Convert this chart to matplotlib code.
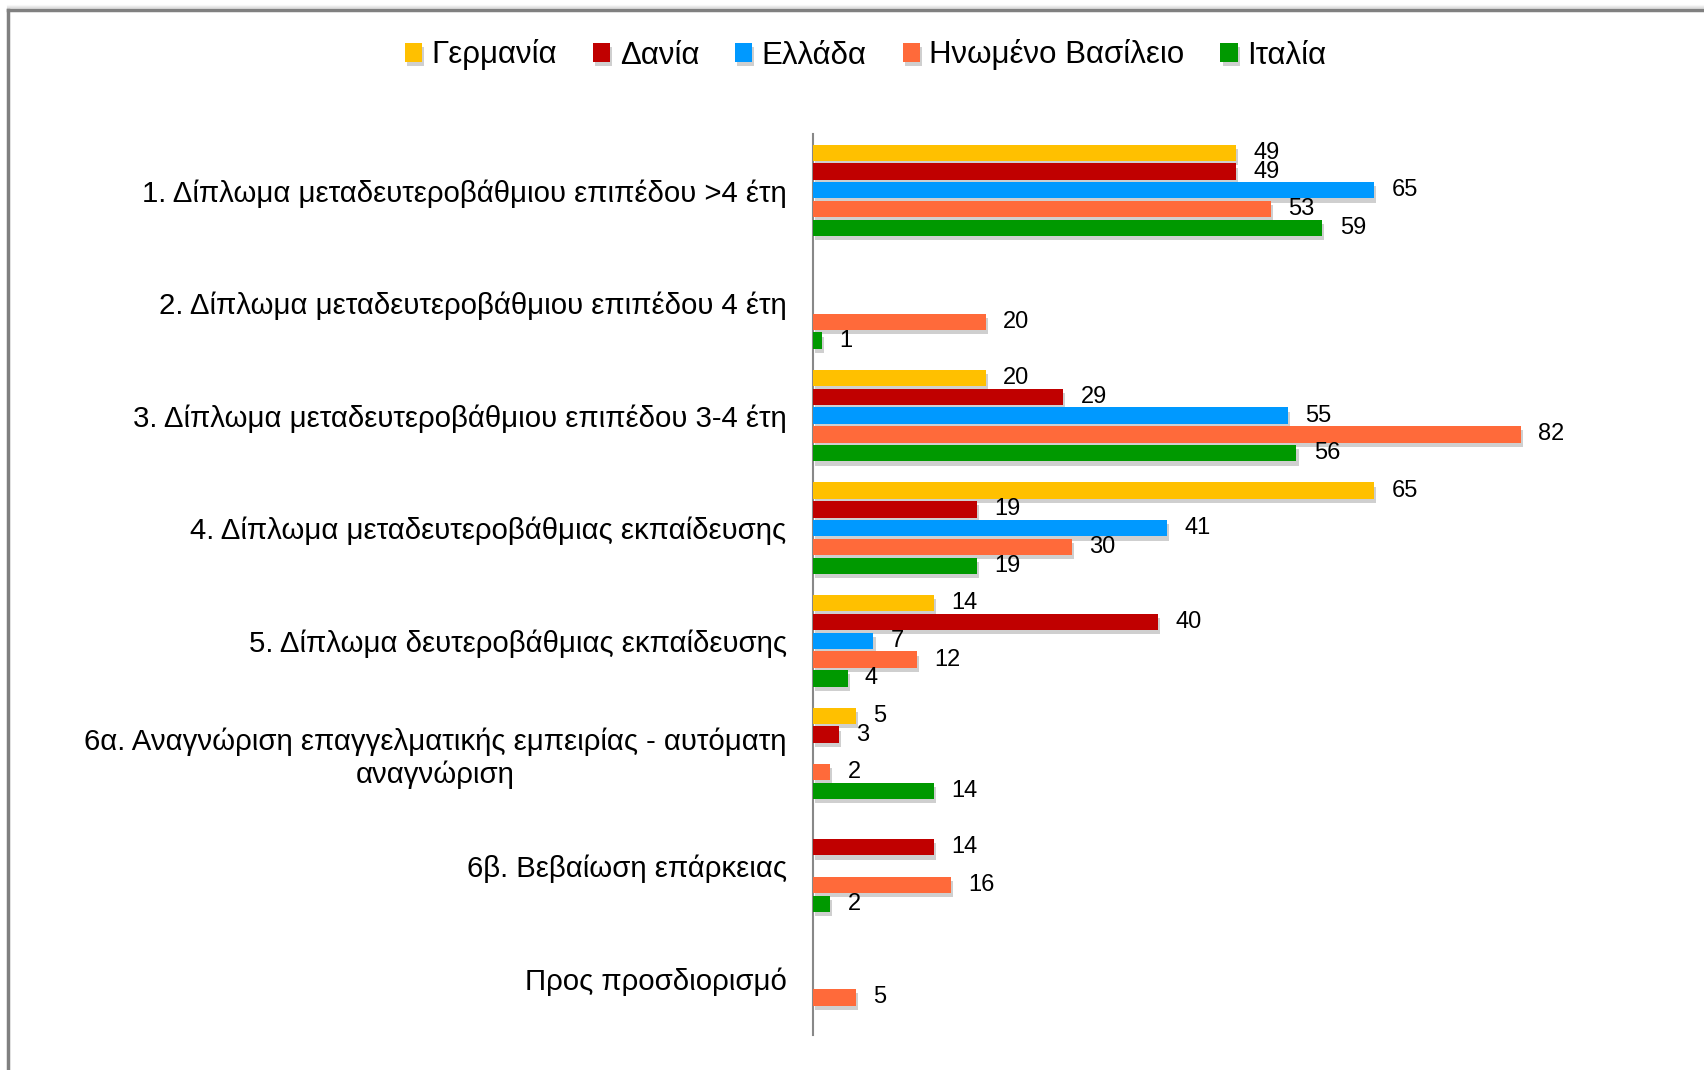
import matplotlib
matplotlib.use("Agg")
import matplotlib.pyplot as plt
import matplotlib.lines as mlines
import matplotlib.patheffects as pe

plt.rcParams['font.family'] = ['Liberation Sans', 'DejaVu Sans']

categories = [
    "1. Δίπλωμα μεταδευτεροβάθμιου επιπέδου >4 έτη",
    "2. Δίπλωμα μεταδευτεροβάθμιου επιπέδου 4 έτη",
    "3. Δίπλωμα μεταδευτεροβάθμιου επιπέδου 3-4 έτη",
    "4. Δίπλωμα μεταδευτεροβάθμιας εκπαίδευσης",
    "5. Δίπλωμα δευτεροβάθμιας εκπαίδευσης",
    "6α. Αναγνώριση επαγγελματικής εμπειρίας - αυτόματη\nαναγνώριση",
    "6β. Βεβαίωση επάρκειας",
    "Προς προσδιορισμό",
]
series_names = ["Γερμανία", "Δανία", "Ελλάδα", "Ηνωμένο Βασίλειο", "Ιταλία"]
germany = [49, None, 20, 65, 14, 5, None, None]
denmark = [49, None, 29, 19, 40, 3, 14, None]
greece = [65, None, 55, 41, 7, None, None, None]
uk = [53, 20, 82, 30, 12, 2, 16, 5]
italy = [59, 1, 56, 19, 4, 14, 2, None]
series_values = [germany, denmark, greece, uk, italy]
colors = ["#FFC000", "#C00000", "#0099FF", "#FF6A3A", "#009900"]

fig = plt.figure(figsize=(17.04, 10.70), dpi=100)
fig.patch.set_facecolor('white')

# frame border (top and left visible, with soft shadow above)
y_top = 1 - 10/1070
x_left = 8/1704
for k, a in [(4, 0.06), (3, 0.1), (2, 0.15)]:
    fig.add_artist(mlines.Line2D([x_left, 1.0], [y_top + k/1070, y_top + k/1070],
                                 transform=fig.transFigure, color='#888888', alpha=a, lw=1.5, zorder=0))
fig.add_artist(mlines.Line2D([x_left, 1.0], [y_top, y_top], transform=fig.transFigure,
                             color='#808080', lw=2.5, zorder=0))
fig.add_artist(mlines.Line2D([x_left, x_left], [0, y_top], transform=fig.transFigure,
                             color='#808080', lw=2.5, zorder=0))

ax = fig.add_axes([813/1704, 1-1035/1070, (1590-813)/1704, (1035-134)/1070])
ax.patch.set_alpha(0)

slot = 0.167
height = 0.145
shadow = [pe.SimplePatchShadow(offset=(1.5, -3), shadow_rgbFace='#555555', alpha=0.28), pe.Normal()]
for j, (name, vals, col) in enumerate(zip(series_names, series_values, colors)):
    ys, ws = [], []
    for i, v in enumerate(vals):
        if v is None:
            continue
        ys.append(i + (j - 2) * slot)
        ws.append(v)
    bars = ax.barh(ys, ws, height=height, color=col, label=name, zorder=3)
    for b in bars:
        b.set_path_effects(shadow)
    for y, w in zip(ys, ws):
        ax.annotate(str(w), xy=(w, y), xytext=(12.5, 0), textcoords='offset points',
                    va='center', ha='left', fontsize=17, color='black')

ax.set_ylim(len(categories) - 0.5, -0.5)
ax.set_xlim(0, 90)
ax.set_yticks(range(len(categories)))
ax.set_yticklabels(categories, fontsize=21.2, multialignment='center', color='black')
ax.tick_params(axis='y', length=0, pad=19)
ax.set_xticks([])
for s in ['top', 'right', 'bottom']:
    ax.spines[s].set_visible(False)
ax.spines['left'].set_color('#888888')
ax.spines['left'].set_linewidth(1.5)

leg = fig.legend(loc='center', bbox_to_anchor=(0.508, 1-55/1070), ncol=5, frameon=False,
                 fontsize=22.5, handlelength=0.55, handleheight=0.55, handletextpad=0.3,
                 columnspacing=1.15)

fig.savefig("out.png", dpi=100, facecolor='white')
